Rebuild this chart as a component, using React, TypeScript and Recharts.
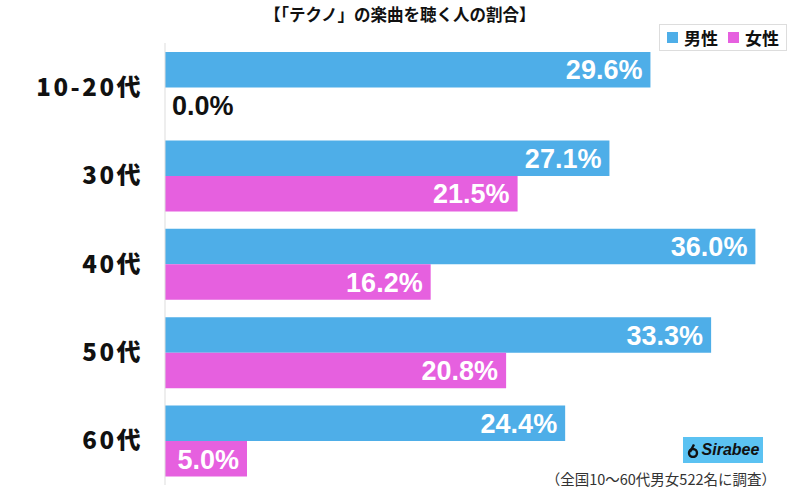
import { BarChart, Bar, XAxis, YAxis, LabelList } from "recharts";

const categories = ["10-20代", "30代", "40代", "50代", "60代"];
const maleValues = [29.6, 27.1, 36.0, 33.3, 24.4];
const femaleValues = [0.0, 21.5, 16.2, 20.8, 5.0];

const MALE_COLOR = "#4eaee8";
const FEMALE_COLOR = "#e660df";
const JP_FONT = '"Noto Sans CJK JP", "Noto Sans", sans-serif';
const NUM_FONT = '"Liberation Sans", Arial, sans-serif';

const data = categories.map((name, i) => ({
  name,
  male: maleValues[i],
  female: femaleValues[i],
}));

/** White label inside the bar end; black outside when the bar is empty */
function valueLabel(props: any) {
  const { x, y, width, height, value } = props;
  const v = Number(value);
  const empty = v === 0;
  return (
    <text
      x={empty ? x + 7 : x + width - 8}
      y={y + height / 2}
      dy="0.36em"
      textAnchor={empty ? "start" : "end"}
      fill={empty ? "#111" : "#fff"}
      fontFamily={NUM_FONT}
      fontWeight={700}
      fontSize={27}
    >
      {v.toFixed(1)}%
    </text>
  );
}

function CategoryTick(props: any) {
  const { y, payload } = props;
  return (
    <text
      x={143}
      y={y}
      dy="0.36em"
      textAnchor="end"
      fill="#111"
      fontFamily={JP_FONT}
      fontWeight={900}
      fontSize={24}
      letterSpacing={2.5}
    >
      {payload.value}
    </text>
  );
}

// tiny invisible width so the 0% bar still gets its label
const minSize = (value: number) => (value === 0 ? 0.01 : 0);

export default function App() {
  return (
    <div
      style={{
        position: "absolute",
        left: 0,
        top: 0,
        width: 800,
        height: 492,
        background: "#fff",
        fontFamily: JP_FONT,
      }}
    >
      <div
        style={{
          position: "absolute",
          top: 2,
          left: 0,
          width: 800,
          textAlign: "center",
          fontSize: 16.5,
          fontWeight: 700,
          color: "#111",
        }}
      >
        【「テクノ」の楽曲を聴く人の割合】
      </div>

      <div
        style={{
          position: "absolute",
          left: 659,
          top: 24,
          width: 126,
          height: 25,
          border: "1px solid #ddd",
          display: "flex",
          alignItems: "center",
          justifyContent: "center",
          gap: 6,
          fontSize: 17,
          fontWeight: 700,
          color: "#111",
        }}
      >
        <span style={{ width: 11, height: 11, background: MALE_COLOR, display: "inline-block" }} />
        <span style={{ marginRight: 4 }}>男性</span>
        <span style={{ width: 11, height: 11, background: FEMALE_COLOR, display: "inline-block" }} />
        <span>女性</span>
      </div>

      <BarChart
        width={800}
        height={492}
        data={data}
        layout="vertical"
        margin={{ top: 43, right: 20, bottom: 7, left: 0 }}
        barGap={0}
      >
        <XAxis type="number" domain={[0, 37.5]} hide />
        <YAxis
          type="category"
          dataKey="name"
          width={165}
          axisLine={{ stroke: "#dddddd" }}
          tickLine={false}
          tick={<CategoryTick />}
        />
        <Bar dataKey="male" fill={MALE_COLOR} barSize={35.5} isAnimationActive={false}>
          <LabelList dataKey="male" content={valueLabel} />
        </Bar>
        <Bar
          dataKey="female"
          fill={FEMALE_COLOR}
          barSize={35.5}
          minPointSize={minSize}
          isAnimationActive={false}
        >
          <LabelList dataKey="female" content={valueLabel} />
        </Bar>
      </BarChart>

      <div
        style={{
          position: "absolute",
          left: 683,
          top: 437,
          width: 80,
          height: 26,
          background: "#5bc2f2",
          display: "flex",
          alignItems: "center",
          justifyContent: "center",
          gap: 3,
          fontFamily: NUM_FONT,
          fontStyle: "italic",
          fontWeight: 700,
          fontSize: 16,
          color: "#111",
        }}
      >
        <svg width={12} height={15} viewBox="0 0 12 15">
          <circle cx={6} cy={10} r={4} fill="none" stroke="#111" strokeWidth={2.4} />
          <path d="M3 9 L7 1.5" stroke="#111" strokeWidth={2.4} fill="none" />
        </svg>
        <span>Sirabee</span>
      </div>

      <div
        style={{
          position: "absolute",
          right: 24,
          top: 468,
          fontSize: 14.5,
          color: "#333",
          whiteSpace: "nowrap",
        }}
      >
        （全国10～60代男女522名に調査）
      </div>
    </div>
  );
}
